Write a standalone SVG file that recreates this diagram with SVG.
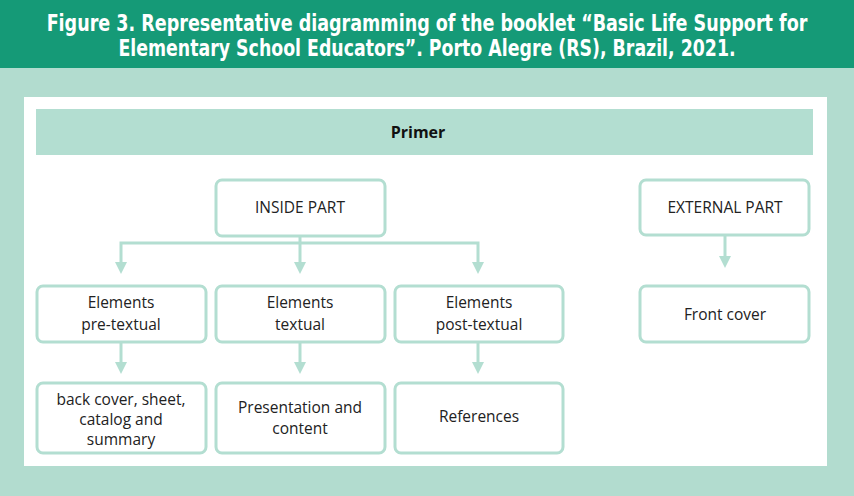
<svg xmlns="http://www.w3.org/2000/svg" width="854" height="496" viewBox="0 0 854 496">
<style>
.title{font-family:"DejaVu Sans Condensed","Liberation Sans Narrow","Liberation Sans",sans-serif;font-stretch:condensed;font-weight:bold;font-size:23px;fill:#ffffff;text-anchor:middle}
.box{fill:#ffffff;stroke:#b3ded1;stroke-width:3}
.lbl{font-family:"Open Sans","Noto Sans",sans-serif;font-size:15.5px;fill:#222222;text-anchor:middle}
.con{stroke:#b3ded1;stroke-width:3;fill:none}
.head{fill:#b3ded1}
.tip{fill:#b3ded1}
</style>
<rect x="0" y="0" width="854" height="496" fill="#b2dccf"/>
<rect x="0" y="0" width="854" height="68" fill="#159a77"/>
<g transform="translate(427,0) scale(0.848,1)">
<text class="title" x="0" y="31">Figure 3. Representative diagramming of the booklet “Basic Life Support for</text>
</g>
<g transform="translate(427,0) scale(0.839,1)">
<text class="title" x="0" y="56">Elementary School Educators”. Porto Alegre (RS), Brazil, 2021.</text>
</g>
<rect x="24" y="97" width="803" height="369" fill="#ffffff"/>
<g id="primer">
<rect class="head" x="36" y="109" width="777" height="46"/>
<text x="418" y="138" font-family="Open Sans, Noto Sans, sans-serif" font-weight="bold" font-size="16" fill="#111" text-anchor="middle">Primer</text>
</g>
<g id="connectors">
<path class="con" d="M300,236 V264"/>
<path class="con" d="M121,264 V243 H478 V264"/>
<polygon class="tip" points="115,262 127,262 121,274"/>
<polygon class="tip" points="294,262 306,262 300,274"/>
<polygon class="tip" points="472,262 484,262 478,274"/>
<path class="con" d="M121,342 V364"/>
<path class="con" d="M300,342 V364"/>
<path class="con" d="M478,342 V364"/>
<polygon class="tip" points="115,362 127,362 121,374"/>
<polygon class="tip" points="294,362 306,362 300,374"/>
<polygon class="tip" points="472,362 484,362 478,374"/>
<path class="con" d="M725,235 V258"/>
<polygon class="tip" points="719,256 731,256 725,268"/>
</g>
<g id="inside">
<rect class="box" x="216" y="180" width="169" height="56" rx="6"/>
<text class="lbl" x="300" y="213">INSIDE PART</text>
</g>
<g id="external">
<rect class="box" x="640" y="180" width="169" height="55" rx="6"/>
<text class="lbl" x="725" y="213">EXTERNAL PART</text>
</g>
<g id="pre">
<rect class="box" x="37" y="286" width="169" height="56" rx="6"/>
<text class="lbl" x="121" y="308">Elements</text>
<text class="lbl" x="121" y="330">pre-textual</text>
</g>
<g id="textual">
<rect class="box" x="216" y="286" width="169" height="56" rx="6"/>
<text class="lbl" x="300" y="308">Elements</text>
<text class="lbl" x="300" y="330">textual</text>
</g>
<g id="post">
<rect class="box" x="395" y="286" width="168" height="56" rx="6"/>
<text class="lbl" x="479" y="308">Elements</text>
<text class="lbl" x="479" y="330">post-textual</text>
</g>
<g id="front">
<rect class="box" x="640" y="286" width="169" height="56" rx="6"/>
<text class="lbl" x="725" y="320">Front cover</text>
</g>
<g id="backcover">
<rect class="box" x="37" y="383" width="169" height="70" rx="6"/>
<text class="lbl" x="121" y="405">back cover, sheet,</text>
<text class="lbl" x="121" y="425">catalog and</text>
<text class="lbl" x="121" y="445">summary</text>
</g>
<g id="presentation">
<rect class="box" x="216" y="383" width="169" height="70" rx="6"/>
<text class="lbl" x="300" y="413">Presentation and</text>
<text class="lbl" x="300" y="434">content</text>
</g>
<g id="references">
<rect class="box" x="395" y="383" width="168" height="70" rx="6"/>
<text class="lbl" x="479" y="422">References</text>
</g>
</svg>
